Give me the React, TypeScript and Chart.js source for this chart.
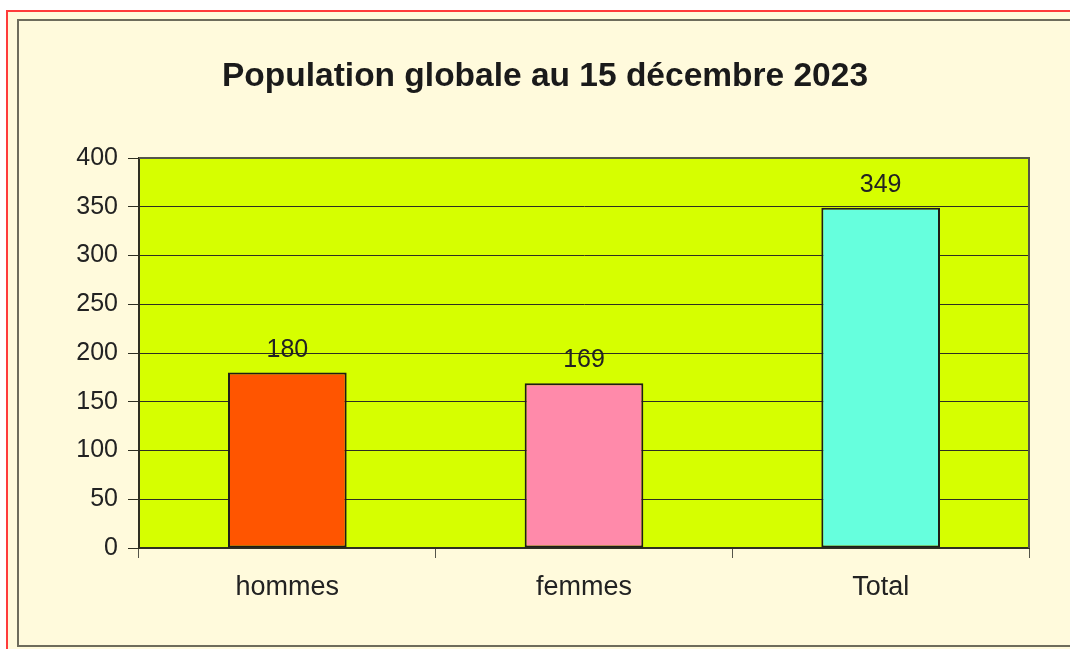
import React, { useEffect, useRef } from "react";
import { Chart, registerables } from "chart.js";

Chart.register(...registerables);

const categories: string[] = ["hommes", "femmes", "Total"];
const values: number[] = [180, 169, 349];
const barColors: string[] = ["#FF5500", "#FF8AAA", "#66FFDD"];
const titleText = "Population globale au 15 décembre 2023";
const yMin = 0;
const yMax = 400;
const yStep = 50;

const FONT = "'Liberation Sans', Arial, Helvetica, sans-serif";
const CREAM = "#FFFADC";
const PLOT_BG = "#D6FF00";
const LINE = "#2E2E22";

const framePlugin = {
  id: "frame",
  beforeDraw(chart: any) {
    const { ctx, width, height, chartArea } = chart;
    ctx.save();
    ctx.fillStyle = "#FFFFFF";
    ctx.fillRect(0, 0, width, height);
    ctx.fillStyle = "#FF3B3B";
    ctx.fillRect(6, 10, width - 6, height - 10);
    ctx.fillStyle = CREAM;
    ctx.fillRect(8, 12, width, height);
    ctx.strokeStyle = "#6E6C5C";
    ctx.lineWidth = 2;
    ctx.strokeRect(18, 20, width + 20, 626);
    ctx.fillStyle = PLOT_BG;
    ctx.fillRect(chartArea.left, chartArea.top, chartArea.right - chartArea.left, chartArea.bottom - chartArea.top);
    ctx.restore();
  },
  beforeDatasetsDraw(chart: any) {
    const { ctx, chartArea } = chart;
    ctx.save();
    ctx.strokeStyle = "#55554A";
    ctx.lineWidth = 2;
    ctx.beginPath();
    ctx.moveTo(chartArea.left, chartArea.top);
    ctx.lineTo(chartArea.right, chartArea.top);
    ctx.lineTo(chartArea.right, chartArea.bottom);
    ctx.stroke();
    ctx.restore();
  },
};

const valueLabelPlugin = {
  id: "valueLabels",
  afterDatasetsDraw(chart: any) {
    const { ctx } = chart;
    const meta = chart.getDatasetMeta(0);
    const data = chart.data.datasets[0].data as number[];
    ctx.save();
    ctx.font = `25px ${FONT}`;
    ctx.fillStyle = "#222222";
    ctx.textAlign = "center";
    ctx.textBaseline = "alphabetic";
    meta.data.forEach((bar: any, i: number) => {
      ctx.fillText(String(data[i]), bar.x, bar.y - 16);
    });
    ctx.restore();
  },
};

export default function App() {
  const canvasRef = useRef<HTMLCanvasElement | null>(null);

  useEffect(() => {
    if (!canvasRef.current) return;
    const chart = new Chart(canvasRef.current, {
      type: "bar",
      data: {
        labels: categories,
        datasets: [
          {
            data: values,
            backgroundColor: barColors,
            borderColor: "#1E1E16",
            borderWidth: 2,
            borderSkipped: false,
            categoryPercentage: 1,
            barPercentage: 0.4,
          },
        ],
      },
      options: {
        animation: false,
        responsive: false,
        maintainAspectRatio: false,
        devicePixelRatio: 1,
        layout: { padding: { left: 20, right: 0, top: 0, bottom: 0 } },
        plugins: {
          legend: { display: false },
          tooltip: { enabled: false },
          title: {
            display: true,
            text: titleText,
            color: "#1A1A1A",
            font: { family: FONT, size: 33.5, weight: "bold" },
            padding: { top: 56.5, bottom: 61.3 },
          },
        },
        scales: {
          x: {
            offset: true,
            grid: {
              offset: true,
              drawOnChartArea: false,
              drawTicks: true,
              tickLength: 10,
              color: "#55554A",
            },
            border: { display: true, color: LINE, width: 2 },
            ticks: {
              color: "#222222",
              font: { family: FONT, size: 27 },
              padding: 13,
              maxRotation: 0,
            },
            afterFit: (scale: any) => {
              scale.height = 101;
            },
          },
          y: {
            min: yMin,
            max: yMax,
            ticks: {
              stepSize: yStep,
              color: "#222222",
              font: { family: FONT, size: 25 },
              padding: 10,
            },
            grid: {
              color: LINE,
              lineWidth: 1,
              tickLength: 11,
              drawTicks: true,
            },
            border: { display: true, color: LINE, width: 2 },
            afterFit: (scale: any) => {
              scale.width = 119;
            },
          },
          yRight: {
            position: "right",
            display: true,
            min: yMin,
            max: yMax,
            ticks: { display: false },
            grid: { drawOnChartArea: false, drawTicks: false },
            border: { display: false },
            afterFit: (scale: any) => {
              scale.width = 41;
            },
          },
        },
      },
      plugins: [framePlugin, valueLabelPlugin],
    });
    return () => chart.destroy();
  }, []);

  return (
    <div style={{ position: "fixed", left: 0, top: 0, width: 1070, height: 649 }}>
      <canvas ref={canvasRef} width={1070} height={649} style={{ width: 1070, height: 649 }} />
    </div>
  );
}
